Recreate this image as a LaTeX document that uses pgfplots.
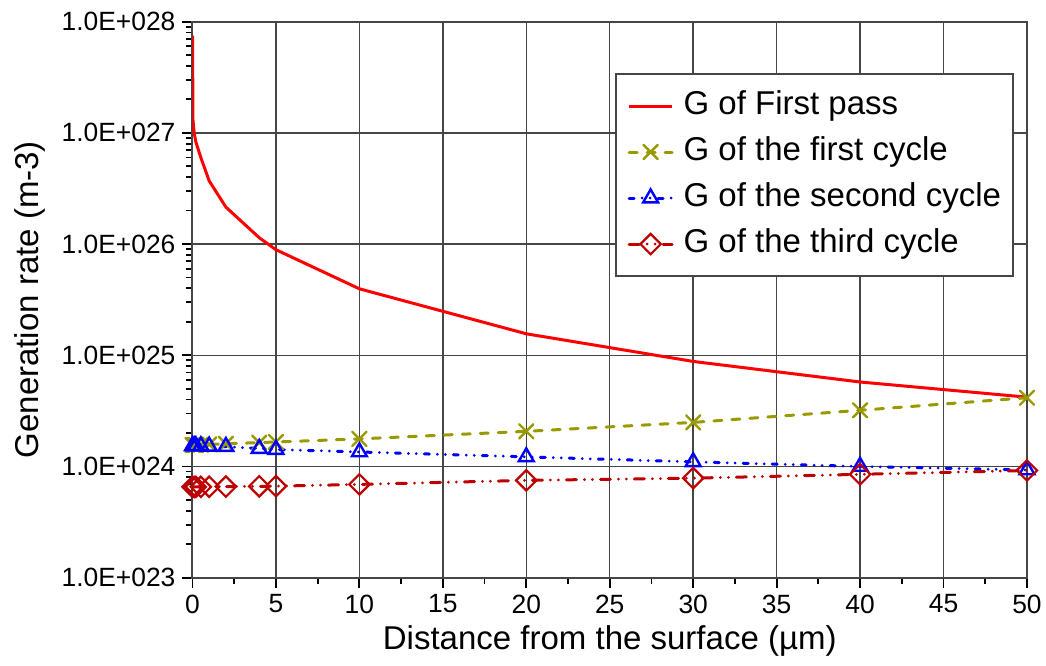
\documentclass[border=0pt]{standalone}
\usepackage{fontspec}
\setmainfont{Liberation Sans}
\usepackage{pgfplots}
\pgfplotsset{compat=1.18}

\definecolor{olivecyc}{RGB}{153,153,0}
\definecolor{darkredcyc}{RGB}{190,0,0}
\definecolor{gridgray}{RGB}{70,70,70}

\begin{document}
\begin{tikzpicture}
\useasboundingbox (-96.25pt,-43.7pt) rectangle (426.75pt,288.85pt);
\begin{axis}[
  scale only axis, width=417.25pt, height=278pt,
  ymode=log, xmin=0, xmax=50, ymin=1e23, ymax=1e28,
  xtick={0,5,...,50},
  xticklabels={0,5,10,15,20,25,30,35,40,45,50},
  minor x tick num=1,
  ytick={1e23,1e24,1e25,1e26,1e27,1e28},
  yticklabels={1.0E+023,1.0E+024,1.0E+025,1.0E+026,1.0E+027,1.0E+028},
  xtick pos=bottom, ytick pos=left,
  tick align=outside,
  major tick length=5pt, minor tick length=3pt,
  tick style={black, line width=0.9pt},
  grid=major, major grid style={gridgray, line width=0.75pt},
  axis line style={gridgray, line width=1pt},
  tick label style={font=\fontsize{13.2}{16}\selectfont},
  label style={font=\fontsize{16.5}{20}\selectfont},
  xlabel={Distance from the surface (µm)},
  ylabel={Generation rate (m-3)},
  x label style={at={(axis description cs:0.5,-0.114)}, anchor=center},
  y label style={at={(axis description cs:-0.1945,0.5)}, anchor=center},
  legend cell align=left,
  legend style={at={(axis description cs:0.9844,0.9076)}, anchor=north east,
    draw=gridgray, line width=1pt, fill=white,
    font=\fontsize{16.5}{19}\selectfont,
    inner xsep=6pt, inner ysep=8.5pt, row sep=8pt,
    nodes={inner sep=0pt, text height=11.5pt, text depth=3.5pt},
    /tikz/every odd column/.append style={column sep=5pt}},
  legend image code/.code={\draw[mark repeat=2,mark phase=2,#1]
    plot coordinates {(0pt,0pt) (10.75pt,0pt) (21.5pt,0pt)};},
]

% first pass
\addplot[red, line width=1.5pt, no marks] coordinates {
  (0,7.5e27) (0.03,1.3e27) (0.1,1.0e27) (0.2,8.3e26) (0.5,6.0e26)
  (1,3.7e26) (2,2.15e26) (4,1.14e26) (5,8.9e25) (10,3.96e25)
  (20,1.56e25) (30,8.8e24) (40,5.75e24) (50,4.2e24)
};
\addlegendentry{G of First pass}

% first cycle
\addplot[olivecyc, line width=1.5pt, line cap=round, dash pattern=on 4pt off 5pt,
  mark=x, mark size=5pt, mark options={solid, line width=1.2pt}] coordinates {
  (0,1.56e24) (0.1,1.56e24) (0.2,1.56e24) (0.5,1.57e24) (1,1.58e24)
  (2,1.60e24) (4,1.64e24) (5,1.66e24) (10,1.77e24) (20,2.07e24)
  (30,2.49e24) (40,3.2e24) (50,4.15e24)
};
\addlegendentry{G of the first cycle}

% second cycle
\addplot[blue, line width=1.5pt, line cap=round,
  dash pattern=on 2.5pt off 4pt on 0pt off 4pt on 0pt off 4pt,
  mark=triangle, mark size=4.3pt, mark options={solid, line width=1.2pt}] coordinates {
  (0,1.53e24) (0.1,1.53e24) (0.2,1.53e24) (0.5,1.53e24) (1,1.52e24)
  (2,1.51e24) (4,1.45e24) (5,1.42e24) (10,1.35e24) (20,1.22e24)
  (30,1.10e24) (40,1.0e24) (50,0.93e24)
};
\addlegendentry{G of the second cycle}

% third cycle
\addplot[darkredcyc, line width=1.5pt, line cap=round,
  dash pattern=on 5pt off 4pt on 0pt off 4pt on 0pt off 4pt,
  mark=square, mark size=3.6pt, mark options={solid, rotate=45, line width=1.1pt}] coordinates {
  (0,6.55e23) (0.1,6.55e23) (0.2,6.55e23) (0.5,6.56e23) (1,6.57e23)
  (2,6.6e23) (4,6.63e23) (5,6.65e23) (10,6.9e23) (20,7.5e23)
  (30,7.85e23) (40,8.5e23) (50,9.2e23)
};
\addlegendentry{G of the third cycle}

\end{axis}
\end{tikzpicture}
\end{document}
